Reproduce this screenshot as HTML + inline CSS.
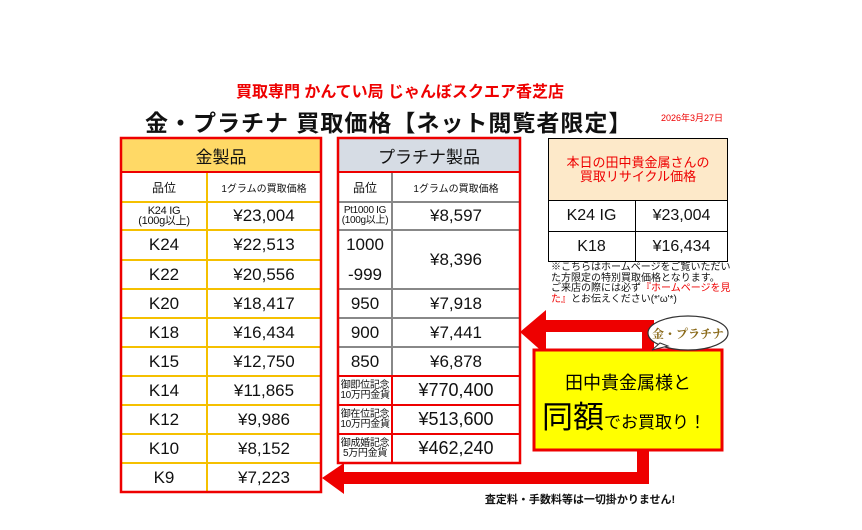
<!DOCTYPE html><html><head><meta charset="utf-8"><style>
body{margin:0;width:862px;height:530px;background:#fff;position:relative;overflow:hidden;font-family:"Liberation Sans","Noto Sans CJK JP",sans-serif;color:#111}
.a{position:absolute}
.c{position:absolute;display:flex;align-items:center;justify-content:center;text-align:center;white-space:nowrap;font-size:17px}
.s{font-size:10px;line-height:10px;letter-spacing:-0.3px}
</style></head><body>
<div class="a" style="left:0;width:800px;top:78px;text-align:center;color:#e00;font-size:16px;font-weight:bold">買取専門 かんてい局 じゃんぼスクエア香芝店</div>
<div class="a" style="left:145px;top:104px;font-size:23px;font-weight:bold;letter-spacing:1px">金・プラチナ 買取価格【ネット閲覧者限定】</div>
<div class="a" style="left:661px;top:111px;font-size:9px;color:#e00">2026年3月27日</div>

<svg class="a" style="left:0;top:0" width="862" height="530">
<rect x="121" y="138" width="200" height="34" fill="#ffd966"/>
<rect x="338" y="138" width="182" height="34" fill="#d6dce4"/>
<g stroke="#f5c000" stroke-width="2">
<line x1="207" y1="172" x2="207" y2="492"/>
<path d="M121 202H321M121 230H321M121 260H321M121 289H321M121 318H321M121 347H321M121 376H321M121 405H321M121 434H321M121 463H321"/>
</g>
<line x1="121" y1="172" x2="321" y2="172" stroke="#e00" stroke-width="2"/>
<rect x="121" y="138" width="200" height="354" fill="none" stroke="#e00" stroke-width="2.5"/>
<g stroke="#888" stroke-width="2">
<line x1="392" y1="172" x2="392" y2="376"/>
<path d="M338 202H520M338 230H520M338 289H520M338 318H520M338 347H520"/>
</g>
<g stroke="#e00" stroke-width="2">
<line x1="392" y1="376" x2="392" y2="463"/>
<path d="M338 172H520M338 376H520M338 405H520M338 434H520"/>
</g>
<rect x="338" y="138" width="182" height="325" fill="none" stroke="#e00" stroke-width="2.5"/>

<path d="M648 349V326H545" fill="none" stroke="#e00" stroke-width="12"/>
<polygon points="520,332 546,310 546,355" fill="#e00"/>
<path d="M643 450V478H342" fill="none" stroke="#e00" stroke-width="12"/>
<polygon points="322,478 344,463 344,494" fill="#e00"/>
<rect x="534" y="350" width="188" height="100" fill="#ff0" stroke="#e00" stroke-width="3"/>
<ellipse cx="688" cy="333" rx="40" ry="17" fill="#fff" stroke="#333" stroke-width="1.2"/>
<polygon points="652,350 660,343 668,346" fill="#fff" stroke="#333"/>
<text x="688" y="338" text-anchor="middle" font-size="12" font-weight="bold" fill="#8a6a1a" font-family="Liberation Serif,Noto Serif CJK SC,serif">金・プラチナ</text>
<text x="628" y="389" text-anchor="middle" font-size="18" fill="#000" font-family="Liberation Sans,Noto Sans CJK JP,sans-serif">田中貴金属様と</text>
<text x="542" y="428" font-size="31" fill="#000" font-family="Liberation Sans,Noto Sans CJK JP,sans-serif">同額<tspan font-size="17">でお買取り！</tspan></text>
</svg>

<!-- gold -->
<div class="c" style="left:121px;top:138px;width:200px;height:34px;font-size:17px">金製品</div>
<div class="c" style="left:121px;top:172px;width:86px;height:30px;font-size:12px">品位</div>
<div class="c" style="left:207px;top:172px;width:114px;height:30px;font-size:10px">1グラムの買取価格</div>
<div class="c s" style="left:121px;top:202px;width:86px;height:28px;font-size:11px">K24 IG<br>(100g以上)</div>
<div class="c" style="left:207px;top:202px;width:114px;height:28px">¥23,004</div>
<div class="c" style="left:121px;top:230px;width:86px;height:30px">K24</div><div class="c" style="left:207px;top:230px;width:114px;height:30px">¥22,513</div>
<div class="c" style="left:121px;top:260px;width:86px;height:29px">K22</div><div class="c" style="left:207px;top:260px;width:114px;height:29px">¥20,556</div>
<div class="c" style="left:121px;top:289px;width:86px;height:29px">K20</div><div class="c" style="left:207px;top:289px;width:114px;height:29px">¥18,417</div>
<div class="c" style="left:121px;top:318px;width:86px;height:29px">K18</div><div class="c" style="left:207px;top:318px;width:114px;height:29px">¥16,434</div>
<div class="c" style="left:121px;top:347px;width:86px;height:29px">K15</div><div class="c" style="left:207px;top:347px;width:114px;height:29px">¥12,750</div>
<div class="c" style="left:121px;top:376px;width:86px;height:29px">K14</div><div class="c" style="left:207px;top:376px;width:114px;height:29px">¥11,865</div>
<div class="c" style="left:121px;top:405px;width:86px;height:29px">K12</div><div class="c" style="left:207px;top:405px;width:114px;height:29px">¥9,986</div>
<div class="c" style="left:121px;top:434px;width:86px;height:29px">K10</div><div class="c" style="left:207px;top:434px;width:114px;height:29px">¥8,152</div>
<div class="c" style="left:121px;top:463px;width:86px;height:29px">K9</div><div class="c" style="left:207px;top:463px;width:114px;height:29px">¥7,223</div>

<!-- platinum -->
<div class="c" style="left:338px;top:138px;width:182px;height:34px;font-size:17px">プラチナ製品</div>
<div class="c" style="left:338px;top:172px;width:54px;height:30px;font-size:12px">品位</div>
<div class="c" style="left:392px;top:172px;width:128px;height:30px;font-size:10px">1グラムの買取価格</div>
<div class="c s" style="left:338px;top:202px;width:54px;height:28px">Pt1000 IG<br>(100g以上)</div>
<div class="c" style="left:392px;top:202px;width:128px;height:28px">¥8,597</div>
<div class="c" style="left:338px;top:230px;width:54px;height:59px;line-height:30px;white-space:normal">1000<br>-999</div>
<div class="c" style="left:392px;top:230px;width:128px;height:59px">¥8,396</div>
<div class="c" style="left:338px;top:289px;width:54px;height:29px">950</div><div class="c" style="left:392px;top:289px;width:128px;height:29px">¥7,918</div>
<div class="c" style="left:338px;top:318px;width:54px;height:29px">900</div><div class="c" style="left:392px;top:318px;width:128px;height:29px">¥7,441</div>
<div class="c" style="left:338px;top:347px;width:54px;height:29px">850</div><div class="c" style="left:392px;top:347px;width:128px;height:29px">¥6,878</div>
<div class="c s" style="left:338px;top:376px;width:54px;height:29px">御即位記念<br>10万円金貨</div><div class="c" style="left:392px;top:376px;width:128px;height:29px;font-size:18px">¥770,400</div>
<div class="c s" style="left:338px;top:405px;width:54px;height:29px">御在位記念<br>10万円金貨</div><div class="c" style="left:392px;top:405px;width:128px;height:29px;font-size:18px">¥513,600</div>
<div class="c s" style="left:338px;top:434px;width:54px;height:29px">御成婚記念<br>5万円金貨</div><div class="c" style="left:392px;top:434px;width:128px;height:29px;font-size:18px">¥462,240</div>

<!-- right box -->
<div class="a" style="left:548px;top:138px;width:180px;height:124px;border:1px solid #000;box-sizing:border-box"></div>
<div class="c" style="left:549px;top:139px;width:178px;height:61px;background:#fde9c9;color:#e00;font-size:13px;line-height:14px;border-bottom:1px solid #000">本日の田中貴金属さんの<br>買取リサイクル価格</div>
<div class="a" style="left:635px;top:200px;width:1px;height:62px;background:#000"></div>
<div class="a" style="left:548px;top:231px;width:180px;height:1px;background:#000"></div>
<div class="c" style="left:548px;top:200px;width:87px;height:31px;font-size:16px">K24 IG</div><div class="c" style="left:635px;top:200px;width:93px;height:31px;font-size:16px">¥23,004</div>
<div class="c" style="left:548px;top:231px;width:87px;height:31px;font-size:16px">K18</div><div class="c" style="left:635px;top:231px;width:93px;height:31px;font-size:16px">¥16,434</div>
<div class="a" style="left:551px;top:263px;width:180px;font-size:10px;line-height:10.5px">※こちらはホームページをご覧いただいた方限定の特別買取価格となります。<br>ご来店の際には必ず<span style="color:#e00">『ホームページを見た』</span>とお伝えください(*'ω'*)</div>

<div class="a" style="left:460px;top:491px;width:240px;text-align:center;font-size:11px;font-weight:bold">査定料・手数料等は一切掛かりません!</div>
</body></html>
